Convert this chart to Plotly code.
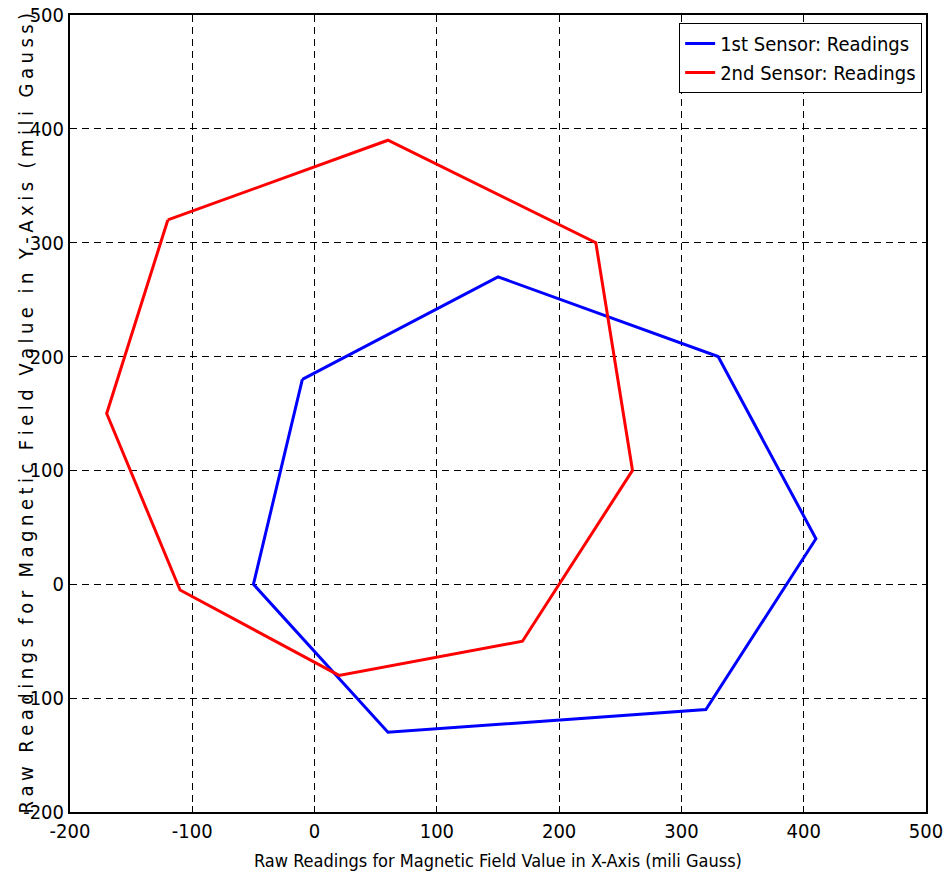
import plotly.graph_objects as go

# Sensor 1 readings (closed loop)
s1_x = [-10, 150, 330, 410, 320, 60, -50, -10]
s1_y = [180, 270, 200, 40, -110, -130, 0, 180]

# Sensor 2 readings (closed loop)
s2_x = [-120, 60, 230, 260, 170, 20, -110, -170, -120]
s2_y = [320, 390, 300, 100, -50, -80, -5, 150, 320]

x_ticks = [-200, -100, 0, 100, 200, 300, 400, 500]
y_ticks = [-200, -100, 0, 100, 200, 300, 400, 500]

FONT = "DejaVu Sans Condensed, Liberation Sans Narrow, Arial Narrow, sans-serif"

fig = go.Figure()
fig.add_trace(go.Scatter(x=s1_x, y=s1_y, mode="lines",
                         line=dict(color="#0000ff", width=3),
                         name="1st Sensor: Readings"))
fig.add_trace(go.Scatter(x=s2_x, y=s2_y, mode="lines",
                         line=dict(color="#ff0000", width=3),
                         name="2nd Sensor: Readings"))

axis_common = dict(
    showgrid=True, gridcolor="black", gridwidth=1, griddash="7px,5px",
    showline=True, linecolor="black", linewidth=2, mirror=True,
    ticks="inside", ticklen=6, tickcolor="black", tickwidth=1,
    zeroline=False, automargin=False,
    tickfont=dict(family=FONT, size=20, color="black"),
)

fig.update_xaxes(range=[-200, 500], tickvals=x_ticks,
                 ticktext=[str(v) for v in x_ticks], **axis_common)
fig.update_yaxes(range=[-200, 500], tickvals=y_ticks,
                 ticktext=[str(v) for v in y_ticks], ticklabelstandoff=0,
                 **axis_common)

y_title = "Raw Readings for Magnetic Field Value in Y-Axis (mili Gauss)"
# letter-spaced vertical title
spaced = "\u2005".join(y_title.replace(" ", "\u2005"))

fig.add_annotation(text="Raw Readings for Magnetic Field Value in X-Axis (mili Gauss)",
                   xref="paper", yref="paper", x=0.5, y=0, yshift=-48,
                   xanchor="center", yanchor="middle", showarrow=False,
                   font=dict(family=FONT, size=18, color="black"))
fig.add_annotation(text=spaced, textangle=-90,
                   xref="paper", yref="paper", x=0, y=0.5, xshift=-45,
                   xanchor="center", yanchor="middle", showarrow=False,
                   font=dict(family=FONT, size=20, color="black"))

fig.update_layout(
    width=948, height=881,
    margin=dict(l=70, r=22, t=15, b=69),
    plot_bgcolor="white", paper_bgcolor="white",
    showlegend=True,
    legend=dict(x=0.9955, y=0.99, xanchor="right", yanchor="top",
                bgcolor="white", bordercolor="black", borderwidth=1,
                font=dict(family=FONT, size=20, color="black"),
                itemwidth=30, tracegroupgap=0),
)

fig.write_html("out.html")
